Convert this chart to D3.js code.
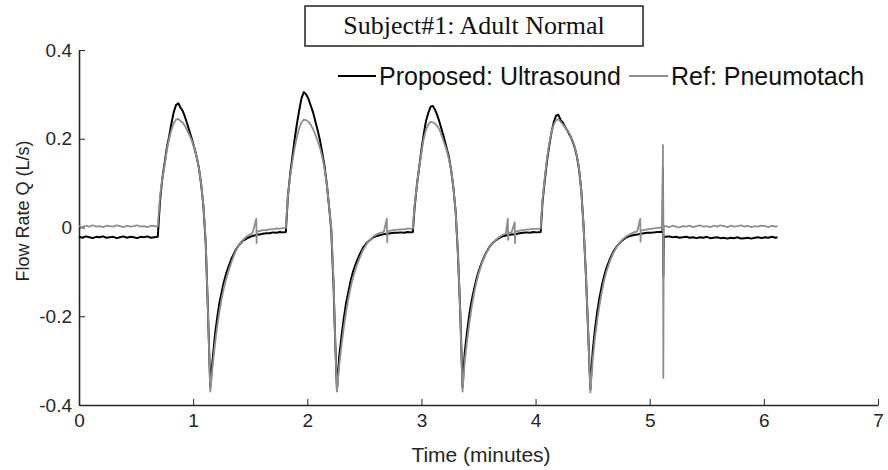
<!DOCTYPE html>
<html>
<head>
<meta charset="utf-8">
<script src="https://cdn.jsdelivr.net/npm/d3@7"></script>
<style>
  body { margin: 0; background: #fff; }
  svg { display: block; }
  .axis path, .axis line { stroke: #262626; }
  .axis text { fill: #262626; font-family: "Liberation Sans", Arial, sans-serif; font-size: 19px; }
</style>
</head>
<body>
<script>
// sample times (minutes) shared by both traces
const timeMin = [
  0,.03,.06,.09,.12,.15,.18,.21,.24,.27,.30,.33,.36,.39,.42,.45,.48,.51,.54,.57,.60,.63,.66,.69,
  .71,.73,.75,.77,.79,.81,.83,.85,.87,.89,.91,.93,.95,.97,.99,1.01,1.03,1.05,1.07,1.09,1.11,1.13,1.15,1.17,1.19,1.21,1.23,1.25,1.27,1.29,1.31,1.34,1.37,1.40,1.43,1.46,1.49,1.52,
  1.553,1.556,1.559,1.58,1.61,1.64,1.67,1.70,1.73,1.76,1.79,1.812,
  1.83,1.85,1.87,1.89,1.91,1.93,1.95,1.97,1.99,2.01,2.03,2.05,2.07,2.09,2.11,2.13,2.15,2.17,2.19,2.21,2.23,2.245,2.26,2.28,2.30,2.32,2.34,2.36,2.38,2.40,2.43,2.46,2.49,2.52,2.55,
  2.58,2.61,2.64,2.67,2.697,2.700,2.703,2.73,2.76,2.79,2.82,2.85,2.88,2.91,2.925,
  2.94,2.96,2.98,3.00,3.02,3.04,3.06,3.08,3.10,3.12,3.14,3.16,3.18,3.20,3.22,3.24,3.26,3.28,3.30,3.32,3.34,3.36,3.38,3.40,3.42,3.44,3.46,3.48,3.50,3.53,3.56,3.59,3.62,3.65,3.68,
  3.71,3.74,3.757,3.760,3.763,3.79,3.817,3.820,3.823,3.86,3.89,3.92,3.95,3.98,4.01,4.045,
  4.06,4.08,4.10,4.12,4.14,4.16,4.18,4.20,4.22,4.24,4.26,4.28,4.30,4.32,4.34,4.36,4.38,4.40,4.42,4.44,4.46,4.48,4.50,4.52,4.54,4.56,4.58,4.60,4.62,4.65,4.68,4.71,4.74,4.77,4.80,4.83,
  4.86,4.89,4.917,4.920,4.923,4.95,4.98,5.01,5.04,5.07,5.10,5.112,5.116,5.119,5.123,
  5.14,5.17,5.20,5.23,5.26,5.29,5.32,5.35,5.38,5.41,5.44,5.47,5.50,5.53,5.56,5.59,5.62,5.65,5.68,5.71,5.74,5.77,5.80,5.83,5.86,5.89,5.92,5.95,5.98,6.01,6.04,6.07,6.10,6.12
];

// Proposed: Ultrasound (L/s)
const proposedQ = [
  -.021,-.023,-.020,-.022,-.024,-.021,-.022,-.020,-.023,-.022,-.021,-.024,-.022,-.020,-.023,-.021,-.022,-.024,-.021,-.022,-.020,-.023,-.022,-.021,
  .06,.11,.145,.18,.205,.235,.26,.276,.28,.27,.262,.248,.232,.215,.198,.18,.16,.135,.098,.048,-.035,-.19,-.36,-.30,-.245,-.205,-.17,-.145,-.122,-.103,-.088,-.068,-.052,-.040,-.031,-.026,-.022,-.019,
  -.017,-.017,-.016,-.016,-.014,-.013,-.013,-.011,-.012,-.010,-.011,-.010,
  .07,.12,.16,.20,.235,.265,.292,.305,.30,.29,.275,.26,.24,.22,.198,.17,.14,.10,.05,-.005,-.13,-.26,-.365,-.29,-.245,-.205,-.17,-.145,-.12,-.10,-.078,-.06,-.045,-.035,-.028,
  -.022,-.019,-.017,-.015,-.014,-.014,-.014,-.013,-.012,-.012,-.011,-.012,-.010,-.011,-.010,
  .045,.095,.135,.175,.21,.24,.258,.272,.274,.265,.252,.236,.218,.20,.18,.16,.13,.09,.035,-.06,-.19,-.36,-.28,-.235,-.195,-.165,-.14,-.118,-.10,-.078,-.06,-.046,-.036,-.029,-.024,
  -.020,-.018,-.017,-.017,-.017,-.016,-.015,-.015,-.015,-.013,-.012,-.011,-.012,-.010,-.011,-.010,
  .055,.105,.15,.185,.215,.238,.252,.254,.242,.236,.226,.218,.208,.197,.183,.163,.133,.085,.005,-.10,-.23,-.365,-.28,-.23,-.19,-.158,-.132,-.11,-.092,-.072,-.055,-.043,-.034,-.027,-.022,-.019,
  -.017,-.016,-.014,-.014,-.014,-.013,-.012,-.012,-.011,-.010,-.010,-.010,.134,-.11,-.02,
  -.021,-.020,-.022,-.021,-.023,-.022,-.021,-.023,-.022,-.024,-.022,-.023,-.021,-.024,-.023,-.022,-.024,-.023,-.025,-.023,-.024,-.022,-.025,-.024,-.023,-.025,-.023,-.022,-.024,-.022,-.023,-.021,-.023,-.022
];

// Ref: Pneumotach (L/s)
const referenceQ = [
  .003,.001,.004,.002,.005,.002,.003,.001,.004,.003,.002,.005,.003,.001,.004,.002,.003,.005,.002,.003,.001,.004,.003,.002,
  .07,.11,.14,.175,.20,.22,.235,.243,.245,.24,.236,.228,.218,.207,.195,.18,.16,.135,.098,.05,-.03,-.19,-.37,-.315,-.265,-.225,-.19,-.16,-.135,-.115,-.098,-.075,-.055,-.040,-.030,-.022,-.017,-.013,
  .020,-.035,-.008,-.008,-.006,-.006,-.004,-.004,-.002,-.003,-.001,-.001,
  .07,.115,.15,.18,.205,.225,.237,.243,.242,.238,.232,.222,.21,.196,.18,.16,.135,.10,.05,.00,-.12,-.26,-.37,-.31,-.265,-.225,-.19,-.16,-.135,-.113,-.088,-.068,-.05,-.037,-.028,
  -.020,-.015,-.012,-.010,.020,-.033,-.008,-.007,-.006,-.005,-.004,-.004,-.002,-.003,-.002,
  .05,.095,.135,.17,.20,.22,.232,.238,.237,.234,.228,.22,.205,.19,.175,.155,.13,.09,.035,-.06,-.19,-.37,-.30,-.255,-.215,-.18,-.15,-.125,-.105,-.08,-.062,-.047,-.036,-.028,-.022,
  -.017,-.013,.020,-.028,-.012,-.011,.012,-.035,-.010,-.007,-.006,-.005,-.004,-.003,-.003,-.002,
  .06,.11,.155,.19,.215,.232,.242,.244,.238,.232,.225,.218,.21,.198,.185,.165,.135,.085,.005,-.10,-.23,-.372,-.30,-.25,-.21,-.175,-.145,-.12,-.10,-.077,-.058,-.044,-.033,-.025,-.019,-.015,
  -.011,-.009,.020,-.032,-.006,-.006,-.004,-.003,-.002,-.001,.000,.000,.186,-.339,.004,
  .003,.001,.004,.002,.000,.003,.002,.004,.001,.003,.005,.002,.003,.001,.004,.002,.005,.003,.001,.004,.002,.003,.005,.002,.004,.001,.003,.002,.004,.003,.001,.004,.002,.003
];

const xTicks = [0, 1, 2, 3, 4, 5, 6, 7];
const yTicks = [-0.4, -0.2, 0, 0.2, 0.4];
const yTickLabels = ["-0.4", "-0.2", "0", "0.2", "0.4"];
const seriesNames = ["Proposed: Ultrasound", "Ref: Pneumotach"];
const seriesColors = ["#000000", "#8e8e8e"];
const titleText = "Subject#1: Adult Normal";

if (proposedQ.length !== timeMin.length || referenceQ.length !== timeMin.length)
  console.warn("length mismatch", timeMin.length, proposedQ.length, referenceQ.length);

const width = 888, height = 470;
const svg = d3.select("body").append("svg")
  .attr("width", width)
  .attr("height", height);

const x = d3.scaleLinear().domain([0, 7]).range([79, 878]);
const y = d3.scaleLinear().domain([-0.4, 0.4]).range([405, 50]);

// axes (MATLAB style, ticks inside, no box)
svg.append("g")
  .attr("class", "axis")
  .attr("transform", "translate(0,405)")
  .call(d3.axisBottom(x).tickValues(xTicks).tickFormat(d3.format("d"))
    .tickSizeInner(-6).tickSizeOuter(0).tickPadding(9))
  .call(g => g.select(".domain").attr("stroke-width", 1.6));

svg.append("g")
  .attr("class", "axis")
  .attr("transform", "translate(79,0)")
  .call(d3.axisLeft(y).tickValues(yTicks).tickFormat((d, i) => yTickLabels[i])
    .tickSizeInner(-6).tickSizeOuter(0).tickPadding(7))
  .call(g => g.select(".domain").attr("stroke-width", 1.6));

const rows = timeMin.map((t, i) => ({ t: t, p: proposedQ[i], r: referenceQ[i] }));

const lineP = d3.line().x(d => x(d.t)).y(d => y(d.p));
const lineR = d3.line().x(d => x(d.t)).y(d => y(d.r));

svg.append("path")
  .datum(rows)
  .attr("fill", "none")
  .attr("stroke", seriesColors[0])
  .attr("stroke-width", 2)
  .attr("stroke-linejoin", "round")
  .attr("d", lineP);

svg.append("path")
  .datum(rows)
  .attr("fill", "none")
  .attr("stroke", seriesColors[1])
  .attr("stroke-width", 1.8)
  .attr("stroke-linejoin", "round")
  .attr("d", lineR);

// axis labels
svg.append("text")
  .attr("x", 481)
  .attr("y", 462)
  .attr("text-anchor", "middle")
  .style("font-family", "Liberation Sans, Arial, sans-serif")
  .style("font-size", "21px")
  .attr("fill", "#262626")
  .text("Time (minutes)");

svg.append("text")
  .attr("transform", "translate(29,211) rotate(-90)")
  .attr("text-anchor", "middle")
  .style("font-family", "Liberation Sans, Arial, sans-serif")
  .style("font-size", "18px")
  .attr("fill", "#262626")
  .text("Flow Rate Q (L/s)");

// legend
const legendItems = [
  { x1: 338, x2: 376, tx: 379 },
  { x1: 629, x2: 668, tx: 671 }
];
const legend = svg.selectAll(".legend")
  .data(seriesNames)
  .enter().append("g")
  .attr("class", "legend");

legend.append("line")
  .attr("x1", (d, i) => legendItems[i].x1)
  .attr("x2", (d, i) => legendItems[i].x2)
  .attr("y1", 76).attr("y2", 76)
  .attr("stroke", (d, i) => seriesColors[i])
  .attr("stroke-width", 2);

legend.append("text")
  .attr("x", (d, i) => legendItems[i].tx)
  .attr("y", 85)
  .style("font-family", "Liberation Sans, Arial, sans-serif")
  .style("font-size", "25px")
  .attr("fill", "#111")
  .text(d => d);

// title box
svg.append("rect")
  .attr("x", 305).attr("y", 6)
  .attr("width", 338).attr("height", 40)
  .attr("fill", "#fff")
  .attr("stroke", "#222")
  .attr("stroke-width", 1.5);

svg.append("text")
  .attr("x", 474)
  .attr("y", 34)
  .attr("text-anchor", "middle")
  .style("font-family", "Liberation Serif, 'Times New Roman', serif")
  .style("font-size", "26px")
  .attr("fill", "#111")
  .text(titleText);
</script>
</body>
</html>
